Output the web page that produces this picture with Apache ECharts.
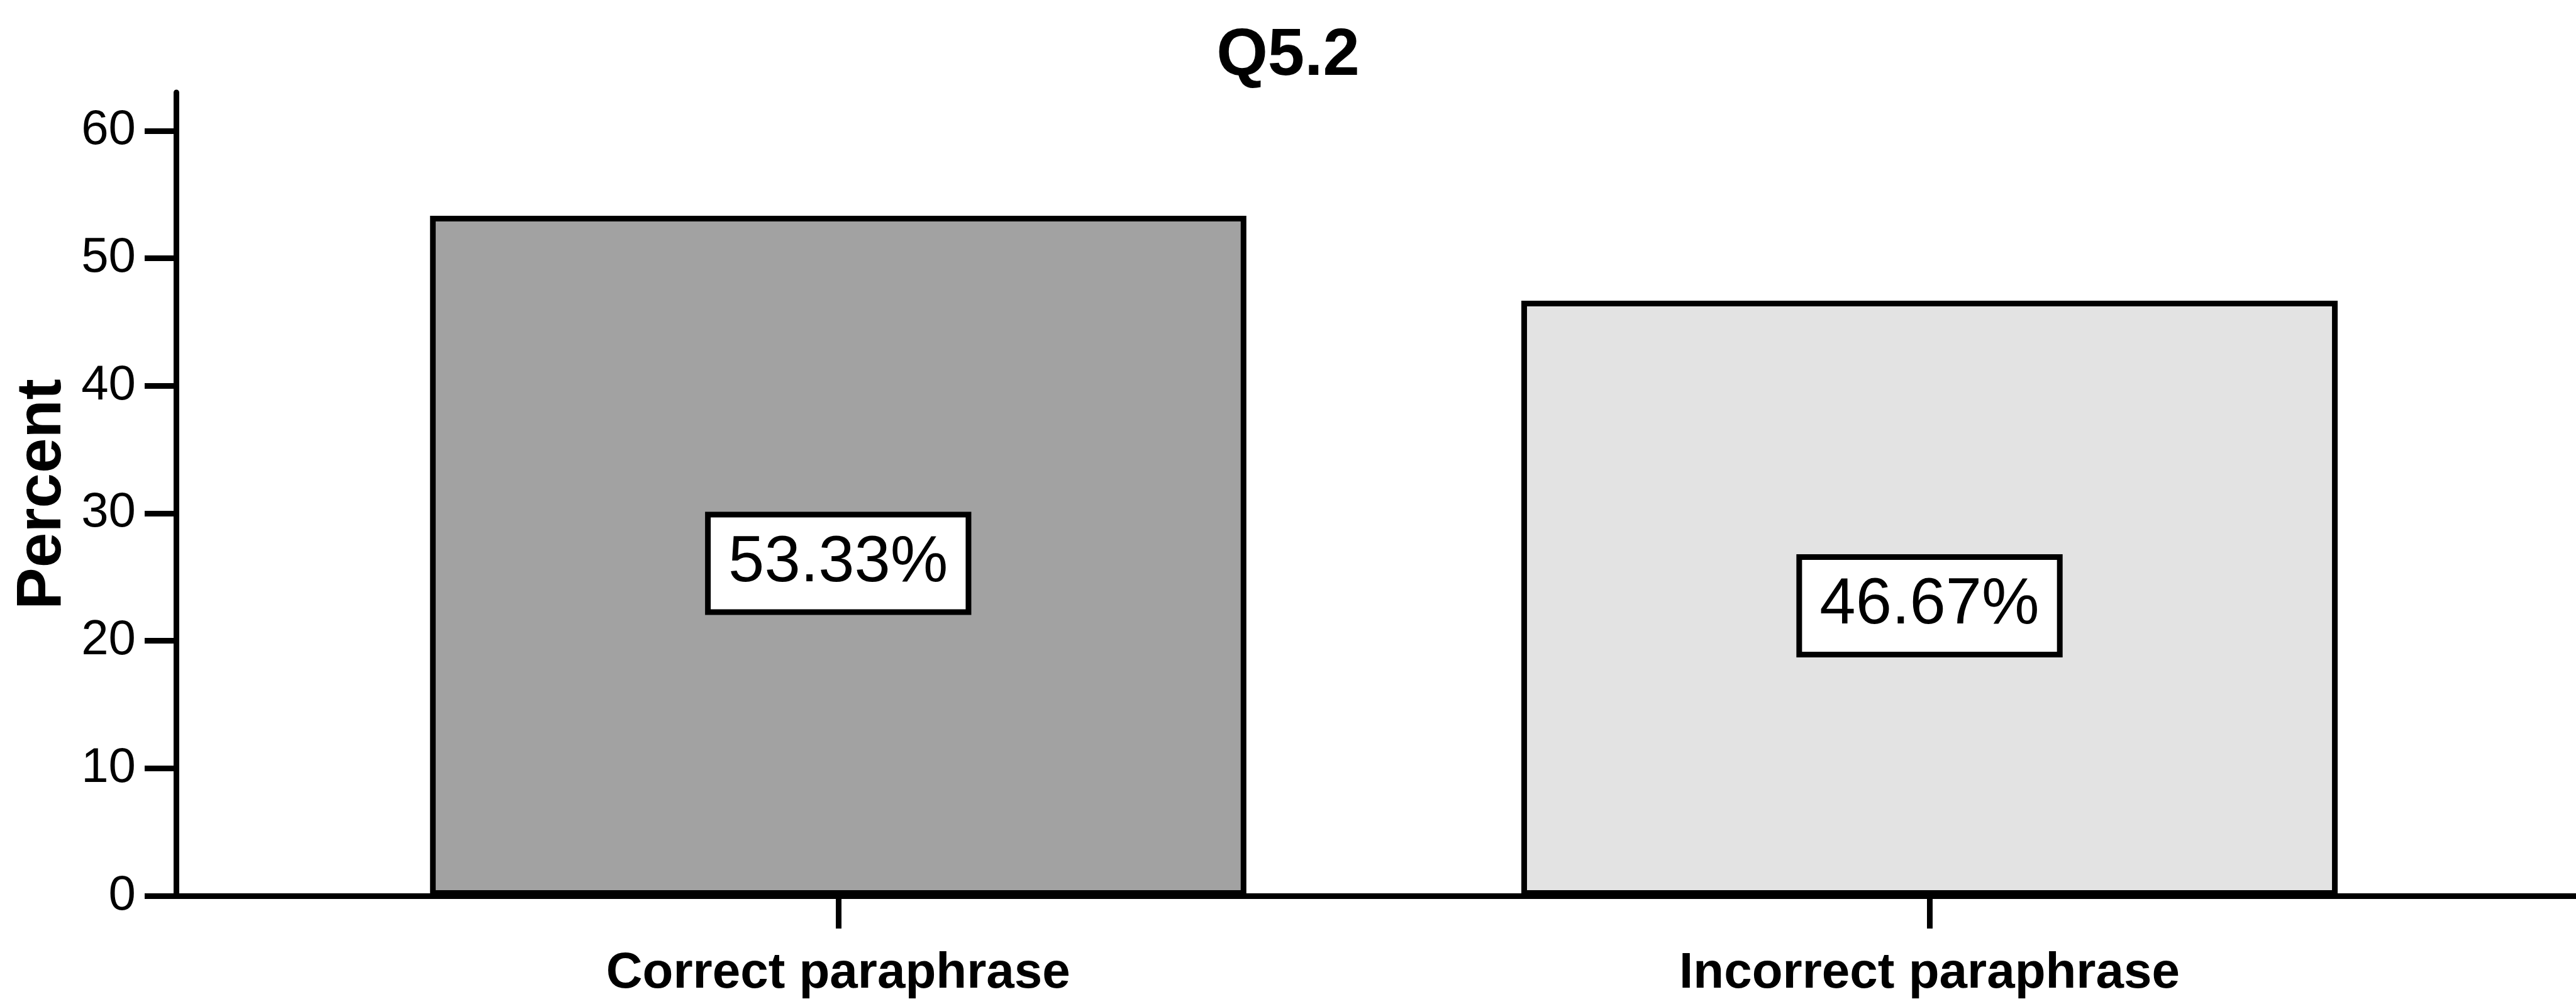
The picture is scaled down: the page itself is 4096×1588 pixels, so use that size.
<!DOCTYPE html>
<html><head><meta charset="utf-8">
<script src="https://cdn.jsdelivr.net/npm/echarts@6/dist/echarts.min.js"></script>
<style>html,body{margin:0;padding:0;background:#fff}#c{width:4096px;height:1588px}</style>
</head><body><div id="c"></div>
<script>
// ---- data ----
const chartTitle = 'Q5.2';
const categories = ['Correct paraphrase', 'Incorrect paraphrase'];
const categoryIndex = [0, 1];
const percentValues = [53.33, 46.67];
const yTickValues = [0, 10, 20, 30, 40, 50, 60];
const yAxisName = 'Percent';

// ---- styles ----
const barFills = ['#a2a2a2', '#e3e3e3'];
const narrowBold = "'Liberation Sans Narrow', 'Arial Narrow', 'Liberation Sans', sans-serif";
const plain = "'Liberation Sans', Arial, sans-serif";

const seriesData = categoryIndex.map((x, i) => ({
  value: [x, percentValues[i]],
  itemStyle: { color: barFills[i] }
}));

const chart = echarts.init(document.getElementById('c'), null, { renderer: 'canvas' });
chart.setOption({
  animation: false,
  backgroundColor: '#fff',
  title: {
    text: chartTitle,
    left: 'center',
    top: 33,
    textStyle: { fontFamily: plain, fontWeight: 'bold', fontSize: 105, color: '#000' }
  },
  grid: { left: 280, right: 0, top: 147, bottom: 160, containLabel: false },
  xAxis: {
    type: 'value',
    min: -0.6067,
    max: 1.5924,
    splitLine: { show: false },
    axisLine: { show: true, onZero: true, lineStyle: { color: '#000', width: 9 } },
    axisTick: { show: true, customValues: categoryIndex, length: 52, lineStyle: { color: '#000', width: 9 } },
    axisLabel: {
      customValues: categoryIndex,
      formatter: v => categories[Math.round(v)] || '',
      margin: 84,
      fontFamily: narrowBold, fontWeight: 'bold', fontSize: 80, color: '#000'
    }
  },
  yAxis: {
    type: 'value',
    min: 0,
    max: 63,
    interval: 10,
    name: yAxisName,
    nameLocation: 'middle',
    nameRotate: 90,
    nameGap: 146,
    nameTextStyle: { fontFamily: narrowBold, fontWeight: 'bold', fontSize: 100, color: '#000' },
    splitLine: { show: false },
    axisLine: { show: true, onZero: false, lineStyle: { color: '#000', width: 9 } },
    axisTick: { show: true, customValues: yTickValues, length: 50, lineStyle: { color: '#000', width: 9 } },
    axisLabel: {
      customValues: yTickValues,
      formatter: v => (v % 10 === 0 ? String(v) : ''),
      margin: 64,
      fontFamily: plain, fontSize: 78, color: '#000'
    }
  },
  series: [{
    type: 'bar',
    data: seriesData,
    barWidth: 1298,
    itemStyle: { borderColor: '#000', borderWidth: 9 },
    label: {
      show: true,
      position: 'inside',
      offset: [0, 12],
      formatter: p => p.value[1].toFixed(2) + '%',
      fontFamily: plain, fontSize: 103, lineHeight: 104, color: '#000',
      backgroundColor: '#fff', borderColor: '#000', borderWidth: 9,
      padding: [20, 28, 22, 28]
    }
  }]
});
</script></body></html>
